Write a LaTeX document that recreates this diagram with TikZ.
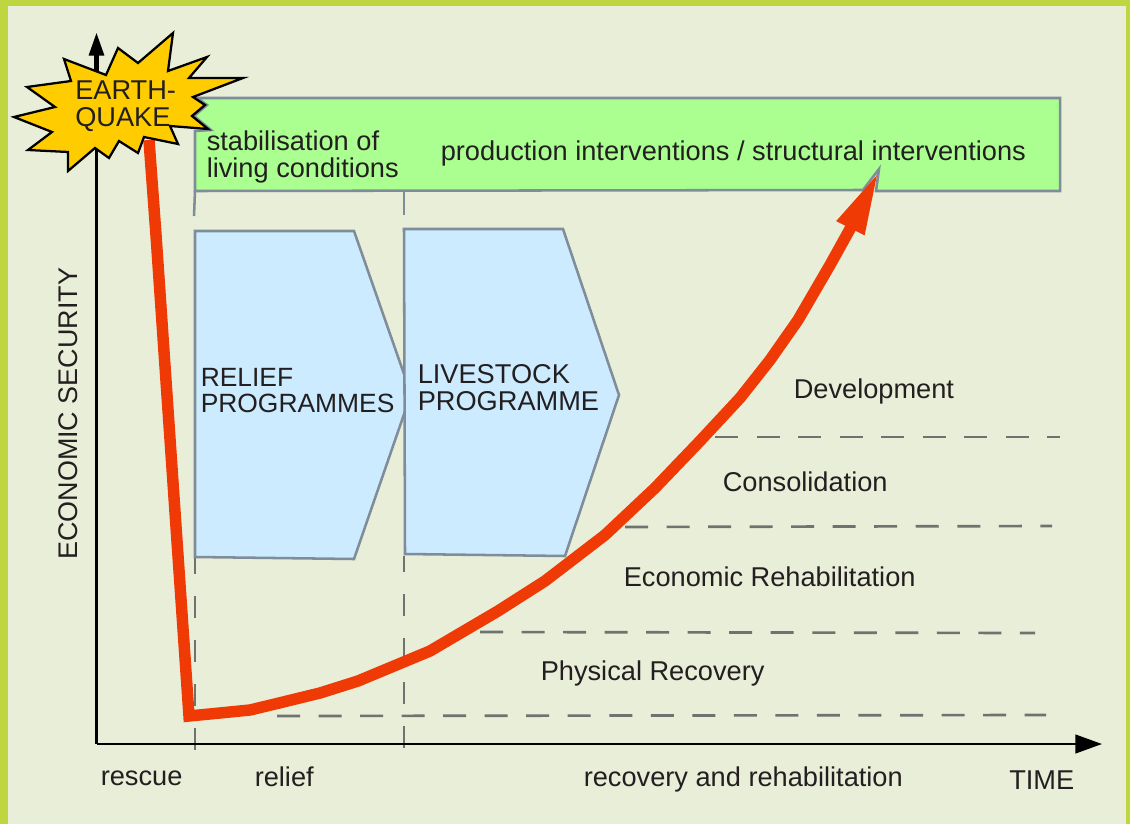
\documentclass[tikz,border=0pt]{standalone}
\usepackage{fontspec}
\setmainfont{Liberation Sans}
\usetikzlibrary{arrows.meta}
\definecolor{framegreen}{HTML}{BFD641}
\definecolor{paper}{HTML}{E9EED9}
\definecolor{boxgreen}{HTML}{AAFF90}
\definecolor{boxblue}{HTML}{CCEBFF}
\definecolor{boxline}{HTML}{7F8C99}
\definecolor{dashgrey}{HTML}{6E7370}
\definecolor{curvered}{HTML}{F03A05}
\definecolor{burstyellow}{HTML}{FFCC00}
\definecolor{inktext}{HTML}{231F20}
\tikzset{
  label/.style={inner sep=0pt,anchor=base west,text=inktext,font=\fontsize{20.4}{20}\selectfont},
  twolines/.style={label,align=left},
  narrowlines/.style={twolines,font=\fontsize{19.8}{19.5}\selectfont},
  panel/.style={draw=boxline,line width=1.9pt,line join=miter},
  axis/.style={black,line width=1.7pt},
  levelline/.style={dashgrey,line width=2pt,dash pattern=on 17.25pt off 13.9pt},
  phaseline/.style={dashgrey,line width=2pt,dash pattern=on 16.5pt off 16.5pt,dash phase=4.5pt}
}
\begin{document}
\begin{tikzpicture}[x=0.75pt,y=-0.75pt]
  \fill[framegreen] (0,0) rectangle (1130,824);
  \fill[paper] (8,6) rectangle (1126,824);
  \coordinate (origin) at (96.5,744);
  \coordinate (ytop) at (96.5,33);
  \coordinate (yneck) at (96.5,72);
  \coordinate (xend) at (1102,744);
  \coordinate (tickA) at (195,191);
  \coordinate (tickAend) at (194,216);
  \coordinate (tickB) at (404,191);
  \coordinate (tickBend) at (404,215);
  \coordinate (phaseA) at (195,558);
  \coordinate (phaseAend) at (195,754);
  \coordinate (phaseB) at (404,556);
  \coordinate (phaseBend) at (404,752);
  \coordinate (physL) at (277,716);
  \coordinate (physR) at (1046,715);
  \coordinate (econL) at (480,632);
  \coordinate (econR) at (1035,633);
  \coordinate (consL) at (625,527);
  \coordinate (consR) at (1052,526);
  \coordinate (devL) at (715,437);
  \coordinate (devR) at (1060,437);
  \draw[panel,fill=boxgreen] (197,98) -- (1060,98) -- (1060,191) -- (876,191) -- (879,169)
    -- (863,190) -- (195,191) -- (195,131) -- (211,130) -- (194,116) -- (207,105) -- cycle;
  \draw[boxline,line width=1.9pt] (tickA) to (tickAend);
  \draw[boxline,line width=1.9pt] (tickB) to (tickBend);
  \draw[panel,fill=boxblue] (195,231) -- (354,231) -- (411,394) -- (354,559) -- (195,557) -- cycle;
  \draw[panel,fill=boxblue] (404,229) -- (563,229) -- (619,395) -- (565,556) -- (405,554) -- cycle;
  \begin{scope}[phaseline]
    \draw (phaseA) to (phaseAend);
    \draw (phaseB) to (phaseBend);
  \end{scope}
  \begin{scope}[levelline]
    \draw (physL) to (physR);
    \draw (econL) to (econR);
    \draw (consL) to (consR);
    \draw (devL) to (devR);
  \end{scope}
  \draw[axis,-{Triangle[length=20pt,width=14pt]}] (origin) to (xend);
  \draw[axis,-{Triangle[length=17pt,width=11.5pt]}] (origin) to (ytop);
  \draw[black,line width=3.4pt] (yneck) to ++(0,-20);
  \draw[curvered,line width=8.6pt,line join=miter,miter limit=20,-{Triangle[length=48pt,width=21pt]}]
    (149,140) -- (156,235) -- (189,716) -- (230,712) -- (250,710) -- (275,704) -- (320,693)
    -- (358,681) -- (430,651) -- (498,611) -- (545,581) -- (605,535) -- (655,488) -- (700,441)
    -- (740,398) -- (770,360) -- (798,320) -- (830,265) -- (850,229) -- (879,171);
  \draw[black,line width=1.7pt,fill=burstyellow,line join=miter]
    (173,33) -- (168,71) -- (207,57) -- (189,78) -- (243,78) -- (193,97) -- (205,105) -- (192,116)
    -- (208,129) -- (170,126) -- (178,144) -- (144,137) -- (138,153) -- (119,141) -- (109,158)
    -- (95,148) -- (68,171) -- (68,152) -- (28,150) -- (52,132) -- (14,117) -- (55,107) -- (27,87)
    -- (71,81) -- (64,59) -- (106,75) -- (118,48) -- (138,63) -- cycle;
  \draw
    (75,126) node[twolines] (quake){EARTH-\\QUAKE}
    (206.5,177) node[twolines] (stabil){stabilisation of\\living conditions}
    (440.5,160) node[label] (prod){production interventions / structural interventions}
    (200.5,412) node[narrowlines] (relprog){RELIEF\\PROGRAMMES}
    (417.5,410) node[twolines] (liveprog){LIVESTOCK\\PROGRAMME}
    (793.5,398) node[label] (dev){Development}
    (722.5,491) node[label] (cons){Consolidation}
    (623.5,586) node[label] (econ){Economic Rehabilitation}
    (540.5,680) node[label] (phys){Physical Recovery}
    (100.5,785) node[label] (rescue){rescue}
    (254.5,786) node[label] (relief){relief}
    (583.5,786) node[label] (recov){recovery and rehabilitation}
    (1009,789) node[label] (time){TIME}
    (77,560) node[label,rotate=90,font=\fontsize{20.2}{20}\selectfont] (secur){ECONOMIC SECURITY};
\end{tikzpicture}
\end{document}
